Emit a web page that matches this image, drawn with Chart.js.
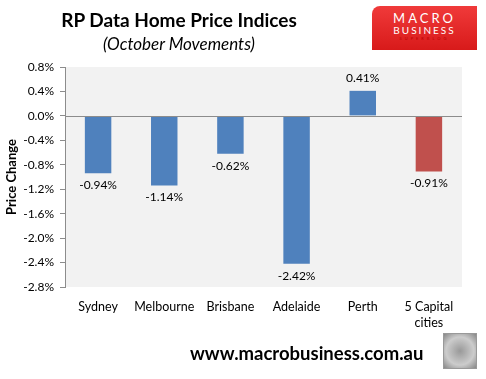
<!DOCTYPE html>
<html><head><meta charset="utf-8">
<script src="https://cdn.jsdelivr.net/npm/chart.js@4/dist/chart.umd.min.js"></script>
<style>
html,body{margin:0;padding:0;background:#fff;}
#wrap{position:relative;width:486px;height:379px;overflow:hidden;font-family:Lato,"Open Sans",sans-serif;}
#c{position:absolute;left:0;top:0;}
.t{position:absolute;white-space:nowrap;}
#title{left:0;width:358px;top:8px;text-align:center;font-weight:bold;font-size:19px;color:#000;}
#sub{left:0;width:358px;top:33px;text-align:center;font-style:italic;font-size:17px;color:#000;}
#logo{position:absolute;left:372px;top:6px;width:105px;height:44px;background:linear-gradient(180deg,#f03a3a,#d81a1a);border-top-left-radius:8px;color:#fff;text-align:center;}
#logo .a{font-size:13px;letter-spacing:3px;margin-top:5px;line-height:14px;}
#logo .b{font-size:10px;letter-spacing:2px;line-height:11px;}
#logo .c{font-size:4px;letter-spacing:3px;color:#b00;line-height:6px;}
#url{left:190px;top:342px;font-weight:bold;font-size:18.5px;color:#000;}
#wolf{position:absolute;left:443px;top:333px;width:32px;height:34px;border:1px solid #999;background:radial-gradient(circle at 50% 50%,#999,#ccc 60%,#888);}
</style></head><body>
<div id="wrap">
<canvas id="c" width="486" height="379"></canvas>
<div class="t" id="title">RP Data Home Price Indices</div>
<div class="t" id="sub">(October Movements)</div>
<div id="logo"><div class="a">MACRO</div><div class="b">BUSINESS</div><div class="c">SUPERBLOG</div></div>
<div class="t" id="url">www.macrobusiness.com.au</div>
<div id="wolf"></div>
</div>
<script>
const categories = [["Sydney"],["Melbourne"],["Brisbane"],["Adelaide"],["Perth"],["5 Capital","cities"]];
const priceChange = [-0.94, -1.14, -0.62, -2.42, 0.41, -0.91];
const barColors = ["#4f81bd","#4f81bd","#4f81bd","#4f81bd","#4f81bd","#c0504d"];
const yMin = -2.8, yMax = 0.8, yStep = 0.4;
const yTitle = "Price Change";
const FONT = 'Lato, "Open Sans", sans-serif';

const decor = {
  id:'decor',
  beforeDraw(chart){
    const {ctx, chartArea:a} = chart;
    ctx.save();
    ctx.fillStyle = '#f2f2f2';
    ctx.fillRect(a.left, a.top, a.right-a.left, a.bottom-a.top);
    ctx.restore();
  },
  afterDatasetsDraw(chart){
    const {ctx, chartArea:a, scales:{y}} = chart;
    ctx.save();
    const y0 = Math.round(y.getPixelForValue(0))+0.5;
    ctx.strokeStyle = '#8c8c8c'; ctx.lineWidth = 1;
    ctx.beginPath(); ctx.moveTo(a.left, y0); ctx.lineTo(a.right, y0); ctx.stroke();
    ctx.fillStyle = '#000';
    ctx.font = '12px ' + FONT;
    ctx.textAlign = 'center'; ctx.textBaseline = 'middle';
    const meta = chart.getDatasetMeta(0);
    meta.data.forEach((bar, i) => {
      const v = priceChange[i];
      const ty = v < 0 ? bar.y + 12 : bar.y - 13;
      ctx.fillText(v.toFixed(2) + '%', bar.x, ty);
    });
    // y title
    ctx.font = 'bold 13px ' + FONT;
    ctx.translate(12, (a.top + a.bottom)/2);
    ctx.rotate(-Math.PI/2);
    ctx.fillText(yTitle, 0, 0);
    ctx.restore();
  }
};

new Chart(document.getElementById('c'), {
  type:'bar',
  data:{ labels: categories, datasets:[{ data: priceChange, backgroundColor: barColors, barPercentage: 0.5, categoryPercentage: 0.8 }] },
  options:{
    responsive:false, animation:false,
    layout:{ padding:{ left:0, top:67, right:24, bottom:52 } },
    plugins:{ legend:{display:false}, tooltip:{enabled:false}, title:{display:false} },
    scales:{
      y:{
        min:yMin, max:yMax,
        afterFit(s){ s.width = 65; },
        afterBuildTicks(s){ const t=[]; for(let k=0;k<=9;k++){ t.push({value: +(yMin + k*yStep).toFixed(1)}); } s.ticks = t; },
        ticks:{ stepSize:yStep, padding:6, color:'#000', font:{family:FONT, size:12}, callback:v => v.toFixed(1) + '%' },
        grid:{ drawOnChartArea:false, drawTicks:true, tickLength:5, color:'#8c8c8c' },
        border:{ display:true, color:'#8c8c8c' }
      },
      x:{
        afterFit(s){ s.height = 40; },
        ticks:{ color:'#000', font:{family:FONT, size:12.5, lineHeight:1.3}, padding:4, maxRotation:0, autoSkip:false },
        grid:{ display:false },
        border:{ display:false }
      }
    }
  },
  plugins:[decor]
});
</script>
</body></html>
